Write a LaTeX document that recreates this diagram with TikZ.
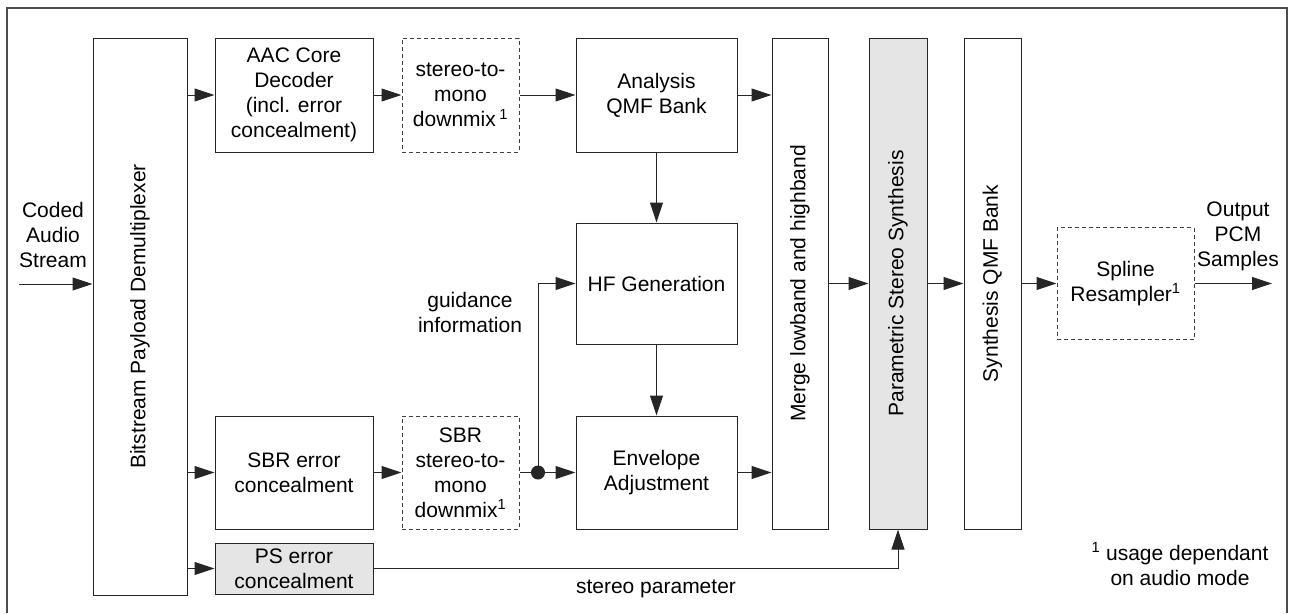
\documentclass[tikz,border=0pt]{standalone}
\usepackage{fontspec}
\setmainfont{Liberation Sans}
\usetikzlibrary{arrows.meta}
\begin{document}
\begin{tikzpicture}[x=1pt,y=-1pt,
  every node/.style={font=\fontsize{21}{25}\selectfont, align=center, inner sep=0pt},
  blk/.style={draw=black!85, line width=1pt, rectangle},
  dbox/.style={blk, dash pattern=on 4pt off 3pt, draw=black!75},
  shaded/.style={fill=black!10},
  arr/.style={-{Triangle[length=20pt,width=13pt]}, line width=1pt, draw=black!85},
  wire/.style={line width=1pt, draw=black!85},
  frame/.style={line width=1.5pt, draw=black!70}]
\useasboundingbox (0,0) rectangle (1289,613);
\draw[frame] (7,613) -- (7,8) -- (1287,8) -- (1287,613);

% blocks
\node[blk, minimum width=94pt, minimum height=557pt] (demux) at (140,316.5) {\rotatebox{90}{Bitstream Payload Demultiplexer}};
\node[blk, minimum width=158pt, minimum height=114pt] (aac) at (294,95) {AAC Core\\Decoder\\(incl. error\\concealment)};
\node[dbox, minimum width=117pt, minimum height=114pt] (s2m) at (460.5,95) {stereo-to-\\mono\\downmix\,\textsuperscript{1}};
\node[blk, minimum width=161pt, minimum height=114pt] (aqmf) at (656.5,95) {Analysis\\QMF Bank};
\node[blk, minimum width=56pt, minimum height=491pt] (merge) at (800,283.5) {\rotatebox{90}{Merge lowband and highband}};
\node[blk, shaded, minimum width=58pt, minimum height=491pt] (pss) at (898,283.5) {\rotatebox{90}{Parametric Stereo Synthesis}};
\node[blk, minimum width=57pt, minimum height=491pt] (sqmf) at (992.5,283.5) {\rotatebox{90}{Synthesis QMF Bank}};
\node[dbox, minimum width=137pt, minimum height=112pt] (spline) at (1125.5,283.5) {Spline\\Resampler\textsuperscript{1}};
\node[blk, minimum width=161pt, minimum height=121pt] (hfgen) at (656.5,283.5) {HF Generation};
\node[blk, minimum width=161pt, minimum height=113pt] (env) at (656.5,472.5) {Envelope\\Adjustment};
\node[blk, minimum width=158pt, minimum height=113pt] (sbrec) at (294,472.5) {SBR error\\concealment};
\node[dbox, minimum width=117pt, minimum height=113pt] (sbrs2m) at (460.5,472.5) {SBR\\stereo-to-\\mono\\downmix\textsuperscript{1}};
\node[blk, shaded, minimum width=158pt, minimum height=51pt] (psec) at (294,568.5) {PS error\\concealment};

% labels
\node (lin) at (53,235) {Coded\\Audio\\Stream};
\node (lout) at (1238,236) {Output\\PCM\\Samples};
\node (lguid) at (470,312) {guidance\\information};
\node (lstereo) at (656,589) {stereo parameter};
\node (lnote) at (1180,564) {\textsuperscript{1} usage dependant\\on audio mode};

% coordinates
\coordinate (in) at (19,284);
\coordinate (out) at (1272,283.5);
\coordinate (dot) at (538,472.5);

% connectors
\draw[arr] (in) -- (demux.west |- in);
\draw[arr] (demux.east |- aac) -- (aac.west);
\draw[arr] (demux.east |- sbrec) -- (sbrec.west);
\draw[arr] (demux.east |- psec) -- (psec.west);
\draw[arr] (aac) -- (s2m);
\draw[arr] (s2m) -- (aqmf);
\draw[arr] (aqmf.east) -- (merge.west |- aqmf);
\draw[arr] (aqmf) -- (hfgen);
\draw[arr] (hfgen) -- (env);
\draw[arr] (sbrec) -- (sbrs2m);
\draw[arr] (sbrs2m.east) -- (env.west);
\draw[arr] (dot) |- (hfgen.west);
\fill[black!85] (dot) circle (7pt);
\draw[arr] (env.east) -- (merge.west |- env);
\draw[arr] (merge) -- (pss);
\draw[arr] (pss) -- (sqmf);
\draw[arr] (sqmf.east |- spline) -- (spline.west);
\draw[arr] (spline.east) -- (out);
\draw[arr] (psec.east) -| (pss.south);
\end{tikzpicture}
\end{document}
